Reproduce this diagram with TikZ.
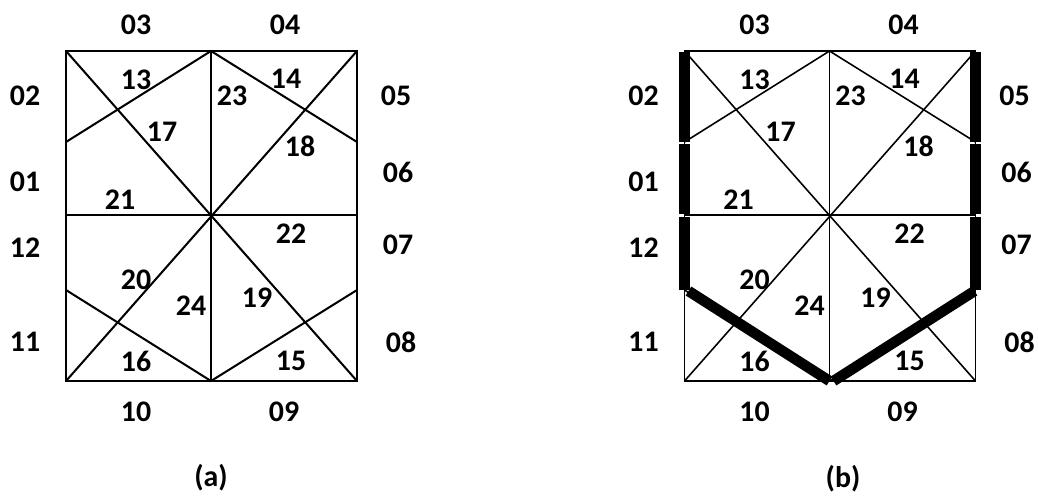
\documentclass[tikz,border=0pt]{standalone}
\usepackage{fontspec}
\setmainfont{Carlito}
\tikzset{
  num/.style={font=\bfseries\fontsize{17}{20}\selectfont, inner sep=0pt},
  heavy/.style={line width=6pt}
}
\begin{document}
\begin{tikzpicture}[x=0.02cm, y=-0.02cm]
  \useasboundingbox (0,0) rectangle (1038,498);
  % both squares share the same points and labels
  \foreach \p/\dx/\w in {a/0/1.15pt, b/618.5/0.9pt} {
    \begin{scope}[xshift=\dx*0.02cm, name prefix=\p-, line width=\w]
      \coordinate (tl) at (66,51); \coordinate (t) at (211,51); \coordinate (tr) at (357,51);
      \coordinate (ul) at (66,142); \coordinate (ur) at (357,142);
      \coordinate (ml) at (66,215); \coordinate (c) at (211,215); \coordinate (mr) at (357,215);
      \coordinate (ll) at (66,290); \coordinate (lr) at (357,290);
      \coordinate (bl) at (66,381); \coordinate (b) at (211,381); \coordinate (br) at (357,381);
      \draw (tl) -- (tr) -- (br) -- (bl) -- cycle;
      \draw (t) -- (b);
      \draw (ml) -- (mr);
      \draw (tl) -- (br);
      \draw (tr) -- (bl);
      \draw (ul) -- (t) -- (ur);
      \draw (ll) -- (b) -- (lr);
      \foreach \t/\x/\y in {03/136/25, 04/285/25, 02/25/96, 05/396/96, 01/25/182, 06/398/172,
          12/25/248, 07/398/245, 11/25/342, 08/401/342, 10/136/412, 09/284/412,
          13/136/80, 14/286/79, 23/232/96, 17/162/132, 18/300/146, 21/120/200,
          22/291/234, 20/136/280, 24/191/306, 19/257/298, 16/136/361, 15/291/361} {
        \node[num] (n\t) at (\x,\y) {\t};
      }
    \end{scope}
  }
  % sides picked out in (b)
  \draw[heavy] (b-tl) ++(0,1) -- (b-ul);
  \draw[heavy] ([yshift=-0.04cm]b-ul) -- ([yshift=0.02cm]b-ml);
  \draw[heavy] ([yshift=-0.04cm]b-ml) -- (b-ll);
  \draw[heavy] (b-tr) ++(0,1) -- (b-ur);
  \draw[heavy] ([yshift=-0.04cm]b-ur) -- ([yshift=0.02cm]b-mr);
  \draw[heavy] ([yshift=-0.04cm]b-mr) -- (b-lr);
  \draw[heavy] ([xshift=0.08cm,yshift=-0.02cm]b-ll) -- (b-b);
  \draw[heavy] ([xshift=0.08cm]b-b) -- ([xshift=-0.02cm,yshift=-0.02cm]b-lr);
  \node[num] (capa) at (211,478) {(a)};
  \node[num] (capb) at (843,479) {(b)};
\end{tikzpicture}
\end{document}
